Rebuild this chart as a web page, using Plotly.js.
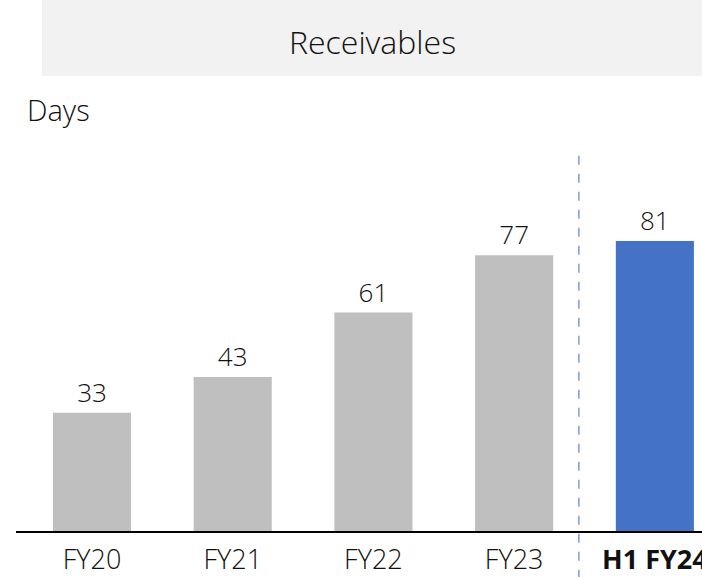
<!DOCTYPE html>
<html><head><meta charset="utf-8">
<script src="https://cdn.plot.ly/plotly-3.0.1.min.js"></script>
<style>html,body{margin:0;padding:0;background:#fff}#c{width:702px;height:577px}</style>
</head><body><div id="c"></div>
<script>
const categories = ["FY20", "FY21", "FY22", "FY23", "H1 FY24"];
const tickLabels = ["FY20", "FY21", "FY22", "FY23", "<b>H1 FY24</b>"];
const days = [33, 43, 61, 77, 81];
const barColors = ["#bfbfbf", "#bfbfbf", "#bfbfbf", "#bfbfbf", "#4472c4"];

const FONT = "'Open Sans', Lato, sans-serif";

const trace = {
  type: "bar",
  x: categories,
  y: days,
  marker: {color: barColors},
  width: 0.555,
  text: days.map(String),
  textposition: "outside",
  textfont: {family: FONT, size: 26, color: "#111", weight: 300},
  cliponaxis: false,
  hoverinfo: "none"
};

const layout = {
  width: 702, height: 577,
  margin: {l: 16, r: 0, t: 150, b: 46},
  paper_bgcolor: "#fff", plot_bgcolor: "rgba(0,0,0,0)",
  showlegend: false,
  bargap: 0.445,
  xaxis: {
    type: "category",
    range: [-0.54, 4.335],
    tickvals: categories,
    ticktext: tickLabels,
    tickfont: {family: FONT, size: 27, color: "#111", weight: 300},
    ticks: "", showgrid: false, zeroline: false,
    showline: true, linecolor: "#000", linewidth: 2,
    ticklabelstandoff: 4
  },
  yaxis: {
    range: [0, 106.4], visible: false, showgrid: false, zeroline: false
  },
  shapes: [
    {type: "rect", xref: "paper", yref: "paper", x0: 0.0379, x1: 1.02, y0: 1.194, y1: 1.40,
     fillcolor: "#f2f2f2", line: {width: 0}, layer: "below"},
    {type: "line", xref: "x", yref: "paper", x0: 3.46, x1: 3.46, y0: -0.125, y1: 1,
     line: {color: "#7b9bd6", width: 1.5, dash: "dash"}}
  ],
  annotations: [
    {text: "Receivables", xref: "paper", yref: "paper", x: 0.519, y: 1.284,
     xanchor: "center", yanchor: "middle", showarrow: false,
     font: {family: FONT, size: 32, color: "#111", weight: 300}},
    {text: "Days", xref: "paper", yref: "paper", x: 0.0125, y: 1.106,
     xanchor: "left", yanchor: "middle", showarrow: false,
     font: {family: FONT, size: 29, color: "#111", weight: 300}}
  ]
};

Plotly.newPlot("c", [trace], layout, {displayModeBar: false, staticPlot: true});
</script>
</body></html>
